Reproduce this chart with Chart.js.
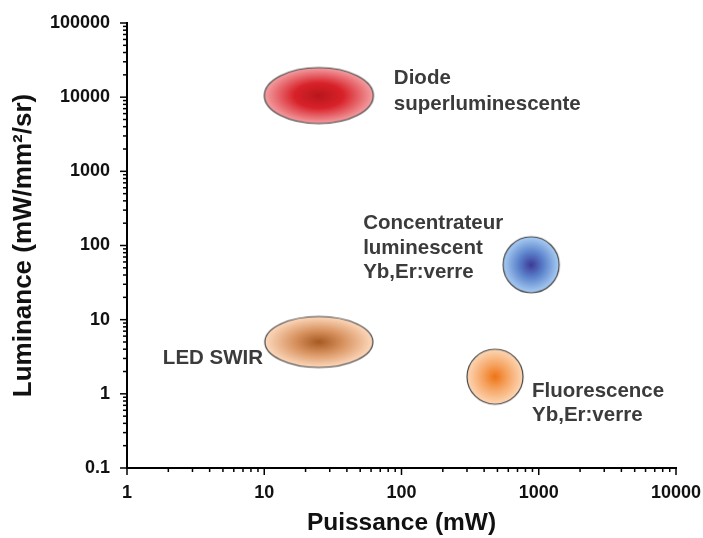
<!DOCTYPE html>
<html>
<head>
<meta charset="utf-8">
<script src="https://cdn.jsdelivr.net/npm/chart.js@4/dist/chart.umd.min.js"></script>
<style>
  body { margin: 0; background: #ffffff; }
  canvas { display: block; }
</style>
</head>
<body>
<canvas id="chart1" width="703" height="538"></canvas>
<script>
// data
const sourceNames = ["Diode superluminescente", "LED SWIR", "Concentrateur luminescent", "Fluorescence"];
const puissance = [25, 25, 880, 480];          // mW
const luminance = [10500, 5, 55, 1.7];          // mW/mm2/sr
const sourceLabels = [
  ["Diode", "superluminescente"],
  ["LED SWIR"],
  ["Concentrateur", "luminescent", "Yb,Er:verre"],
  ["Fluorescence", "Yb,Er:verre"],
];
const xTicks = [1, 10, 100, 1000, 10000];
const xTickLabels = ["1", "10", "100", "1000", "10000"];
const yTicks = [0.1, 1, 10, 100, 1000, 10000, 100000];
const yTickLabels = ["0.1", "1", "10", "100", "1000", "10000", "100000"];

// look of each blob: size in px, gradient stops, label offset from the point
const blobStyles = [
  { w: 109, h: 56, stops: ["#b8161c", "#d9222a", "#f3a0a3"], label: { dx: 75, dy: [-12, 14] } },
  { w: 108, h: 51, stops: ["#a65a22", "#d8925f", "#fdd9bd"], label: { dx: -156, dy: [22] } },
  { w: 56, h: 56, stops: ["#3d3a96", "#5b82cb", "#a9cdf3"], label: { dx: -168, dy: [-35.5, -11, 13.5] } },
  { w: 56, h: 55, stops: ["#ee7416", "#f6a462", "#fdd7b6"], label: { dx: 37, dy: [20, 44] } },
];

const FONT = "'Liberation Sans', Arial, sans-serif";

function makeBlob(st) {
  var c = document.createElement("canvas");
  c.width = st.w + 4;
  c.height = st.h + 4;
  var ctx = c.getContext("2d");
  var rx = st.w / 2, ry = st.h / 2;
  ctx.save();
  ctx.translate(c.width / 2, c.height / 2);
  ctx.scale(1, ry / rx);
  var g = ctx.createRadialGradient(0, 0, 0, 0, 0, rx);
  g.addColorStop(0, st.stops[0]);
  g.addColorStop(0.45, st.stops[1]);
  g.addColorStop(1, st.stops[2]);
  ctx.fillStyle = g;
  ctx.beginPath();
  ctx.arc(0, 0, rx, 0, Math.PI * 2);
  ctx.fill();
  ctx.restore();
  ctx.beginPath();
  ctx.ellipse(c.width / 2, c.height / 2, rx, ry, 0, 0, Math.PI * 2);
  ctx.strokeStyle = "#444";
  ctx.lineWidth = 1.2;
  ctx.stroke();
  return c;
}

// outward tick marks (long for decades, short for 2..9)
const tickMarks = {
  id: "tickMarks",
  afterDraw(chart) {
    var ctx = chart.ctx;
    ctx.save();
    ctx.strokeStyle = "#000";
    ctx.lineWidth = 1.5;
    ["x", "y"].forEach(function (id) {
      var s = chart.scales[id];
      var e0 = Math.floor(Math.log10(s.min)), e1 = Math.ceil(Math.log10(s.max));
      for (var e = e0; e <= e1; e++) {
        for (var m = 1; m <= 9; m++) {
          var v = m * Math.pow(10, e);
          if (v < s.min * 0.999 || v > s.max * 1.001) continue;
          var len = m === 1 ? 7 : 4;
          var p = s.getPixelForValue(v);
          ctx.beginPath();
          if (id === "x") {
            ctx.moveTo(p, s.top);
            ctx.lineTo(p, s.top + len);
          } else {
            ctx.moveTo(s.right, p);
            ctx.lineTo(s.right - len, p);
          }
          ctx.stroke();
        }
      }
    });
    ctx.restore();
  },
};

// text next to each blob
const blobLabels = {
  id: "blobLabels",
  afterDatasetsDraw(chart) {
    var ctx = chart.ctx;
    ctx.save();
    ctx.font = "bold 20.5px " + FONT;
    ctx.fillStyle = "#3b3b3b";
    ctx.textAlign = "left";
    ctx.textBaseline = "alphabetic";
    for (var i = 0; i < sourceLabels.length; i++) {
      var px = chart.scales.x.getPixelForValue(puissance[i]);
      var py = chart.scales.y.getPixelForValue(luminance[i]);
      var lb = blobStyles[i].label;
      sourceLabels[i].forEach(function (line, k) {
        ctx.fillText(line, px + lb.dx, py + lb.dy[k]);
      });
    }
    ctx.restore();
  },
};

var canvas1 = document.getElementById("chart1");
var chart1 = new Chart(canvas1, {
  type: "scatter",
  data: {
    datasets: sourceNames.map(function (name, i) {
      return {
        label: name,
        data: [{ x: puissance[i], y: luminance[i] }],
        pointStyle: makeBlob(blobStyles[i]),
        pointRadius: 10,
        pointHoverRadius: 10,
      };
    }),
  },
  options: {
    responsive: false,
    animation: false,
    events: [],
    layout: { padding: { top: 23, right: 27, left: 0, bottom: 0 } },
    plugins: {
      legend: { display: false },
      tooltip: { enabled: false },
    },
    scales: {
      x: {
        type: "logarithmic",
        min: 1,
        max: 10000,
        afterFit: function (s) {
          s.height = 70;
          s.paddingLeft = 0;
          s.paddingRight = 0;
        },
        afterBuildTicks: function (s) { s.ticks = xTicks.map(function (v) { return { value: v }; }); },
        grid: { drawOnChartArea: false, drawTicks: true, tickLength: 7, tickColor: "rgba(0,0,0,0)" },
        border: { display: true, color: "#000", width: 2 },
        ticks: {
          autoSkip: false,
          maxRotation: 0,
          padding: 7,
          color: "#111",
          font: { family: FONT, size: 18, weight: "bold" },
          callback: function (v, i) { return xTickLabels[i]; },
        },
        title: {
          display: true,
          text: "Puissance (mW)",
          color: "#111",
          padding: { top: 0, bottom: 0 },
          font: { family: FONT, size: 24.5, weight: "bold" },
        },
      },
      y: {
        type: "logarithmic",
        min: 0.1,
        max: 100000,
        afterFit: function (s) {
          s.width = 127;
          s.paddingTop = 0;
          s.paddingBottom = 0;
        },
        afterBuildTicks: function (s) { s.ticks = yTicks.map(function (v) { return { value: v }; }); },
        grid: { drawOnChartArea: false, drawTicks: true, tickLength: 7, tickColor: "rgba(0,0,0,0)" },
        border: { display: true, color: "#000", width: 2 },
        ticks: {
          autoSkip: false,
          padding: 10,
          color: "#111",
          font: { family: FONT, size: 18, weight: "bold" },
          callback: function (v, i) { return yTickLabels[i]; },
        },
        title: {
          display: true,
          text: "Luminance (mW/mm²/sr)",
          color: "#111",
          padding: { top: 8, bottom: 0 },
          font: { family: FONT, size: 26, weight: "bold" },
        },
      },
    },
  },
  plugins: [tickMarks, blobLabels],
});
</script>
</body>
</html>
